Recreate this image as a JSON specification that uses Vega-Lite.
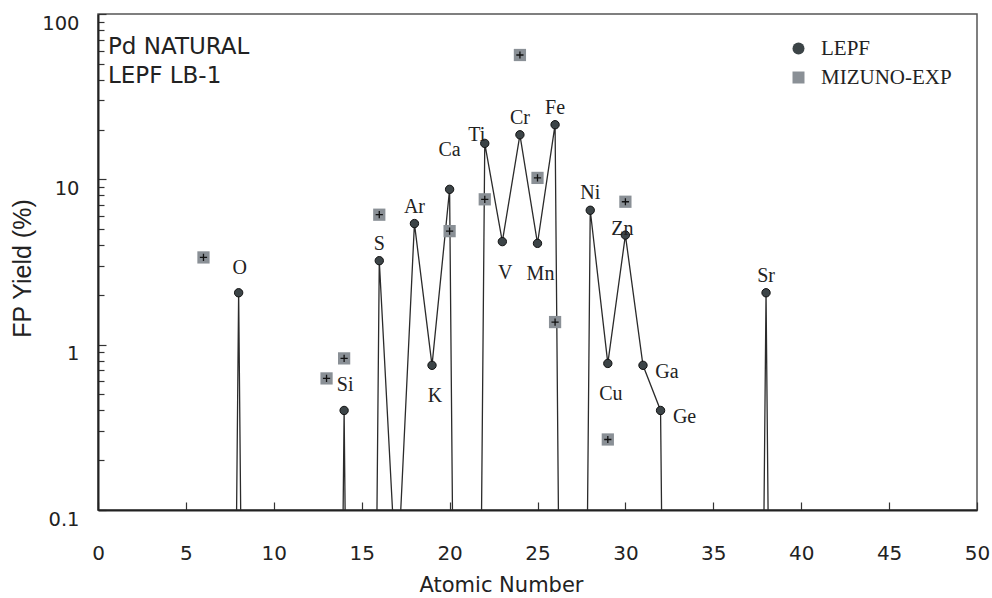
{
  "$schema": "https://vega.github.io/schema/vega-lite/v6.json",
  "autosize": "none",
  "width": 879,
  "height": 496,
  "padding": {"left": 98, "top": 14, "right": 15, "bottom": 88},
  "background": "white",
  "config": {
    "view": {"stroke": "#555", "strokeWidth": 1.5}
  },
  "title": {
    "text": "Pd NATURAL", "subtitle": "LEPF LB-1",
    "anchor": "start", "frame": "group", "orient": "top", "offset": -75, "dx": 10,
    "font": "DejaVu Sans", "fontSize": 23, "fontWeight": "normal", "color": "#222",
    "subtitleFont": "DejaVu Sans", "subtitleFontSize": 23, "subtitleColor": "#222", "subtitlePadding": 6
  },
  "datasets": {
    "lepf": [
      {"z": 1, "y": 1e-11, "series": "LEPF", "el": null, "pos": null},
      {"z": 2, "y": 1e-11, "series": "LEPF", "el": null, "pos": null},
      {"z": 3, "y": 1e-11, "series": "LEPF", "el": null, "pos": null},
      {"z": 4, "y": 1e-11, "series": "LEPF", "el": null, "pos": null},
      {"z": 5, "y": 1e-11, "series": "LEPF", "el": null, "pos": null},
      {"z": 6, "y": 1e-11, "series": "LEPF", "el": null, "pos": null},
      {"z": 7, "y": 1e-11, "series": "LEPF", "el": null, "pos": null},
      {"z": 8, "y": 2.06, "series": "LEPF", "el": "O", "pos": "above2"},
      {"z": 9, "y": 1e-11, "series": "LEPF", "el": null, "pos": null},
      {"z": 10, "y": 1e-11, "series": "LEPF", "el": null, "pos": null},
      {"z": 11, "y": 1e-11, "series": "LEPF", "el": null, "pos": null},
      {"z": 12, "y": 1e-11, "series": "LEPF", "el": null, "pos": null},
      {"z": 13, "y": 1e-11, "series": "LEPF", "el": null, "pos": null},
      {"z": 14, "y": 0.40, "series": "LEPF", "el": "Si", "pos": "above2"},
      {"z": 15, "y": 1e-11, "series": "LEPF", "el": null, "pos": null},
      {"z": 16, "y": 3.22, "series": "LEPF", "el": "S", "pos": "above"},
      {"z": 17, "y": 0.032, "series": "LEPF", "el": null, "pos": null},
      {"z": 18, "y": 5.4, "series": "LEPF", "el": "Ar", "pos": "above"},
      {"z": 19, "y": 0.75, "series": "LEPF", "el": "K", "pos": "below"},
      {"z": 20, "y": 8.7, "series": "LEPF", "el": "Ca", "pos": "above3"},
      {"z": 21, "y": 1e-11, "series": "LEPF", "el": null, "pos": null},
      {"z": 22, "y": 16.5, "series": "LEPF", "el": "Ti", "pos": "left"},
      {"z": 23, "y": 4.2, "series": "LEPF", "el": "V", "pos": "below"},
      {"z": 24, "y": 18.6, "series": "LEPF", "el": "Cr", "pos": "above"},
      {"z": 25, "y": 4.1, "series": "LEPF", "el": "Mn", "pos": "below"},
      {"z": 26, "y": 21.4, "series": "LEPF", "el": "Fe", "pos": "above"},
      {"z": 27, "y": 1e-11, "series": "LEPF", "el": null, "pos": null},
      {"z": 28, "y": 6.5, "series": "LEPF", "el": "Ni", "pos": "above"},
      {"z": 29, "y": 0.77, "series": "LEPF", "el": "Cu", "pos": "below"},
      {"z": 30, "y": 4.6, "series": "LEPF", "el": "Zn", "pos": "on"},
      {"z": 31, "y": 0.75, "series": "LEPF", "el": "Ga", "pos": "right"},
      {"z": 32, "y": 0.40, "series": "LEPF", "el": "Ge", "pos": "right"},
      {"z": 33, "y": 1e-11, "series": "LEPF", "el": null, "pos": null},
      {"z": 34, "y": 1e-11, "series": "LEPF", "el": null, "pos": null},
      {"z": 35, "y": 1e-11, "series": "LEPF", "el": null, "pos": null},
      {"z": 36, "y": 1e-11, "series": "LEPF", "el": null, "pos": null},
      {"z": 37, "y": 1e-11, "series": "LEPF", "el": null, "pos": null},
      {"z": 38, "y": 2.06, "series": "LEPF", "el": "Sr", "pos": "above"},
      {"z": 39, "y": 1e-11, "series": "LEPF", "el": null, "pos": null},
      {"z": 40, "y": 1e-11, "series": "LEPF", "el": null, "pos": null},
      {"z": 41, "y": 1e-11, "series": "LEPF", "el": null, "pos": null},
      {"z": 42, "y": 1e-11, "series": "LEPF", "el": null, "pos": null},
      {"z": 43, "y": 1e-11, "series": "LEPF", "el": null, "pos": null},
      {"z": 44, "y": 1e-11, "series": "LEPF", "el": null, "pos": null},
      {"z": 45, "y": 1e-11, "series": "LEPF", "el": null, "pos": null},
      {"z": 46, "y": 1e-11, "series": "LEPF", "el": null, "pos": null},
      {"z": 47, "y": 1e-11, "series": "LEPF", "el": null, "pos": null},
      {"z": 48, "y": 1e-11, "series": "LEPF", "el": null, "pos": null},
      {"z": 49, "y": 1e-11, "series": "LEPF", "el": null, "pos": null},
      {"z": 50, "y": 1e-11, "series": "LEPF", "el": null, "pos": null}
    ],
    "mizuno": [
      {"z": 6, "y": 3.37, "series": "MIZUNO-EXP"},
      {"z": 13, "y": 0.625, "series": "MIZUNO-EXP"},
      {"z": 14, "y": 0.826, "series": "MIZUNO-EXP"},
      {"z": 16, "y": 6.11, "series": "MIZUNO-EXP"},
      {"z": 20, "y": 4.86, "series": "MIZUNO-EXP"},
      {"z": 22, "y": 7.57, "series": "MIZUNO-EXP"},
      {"z": 24, "y": 56.5, "series": "MIZUNO-EXP"},
      {"z": 25, "y": 10.2, "series": "MIZUNO-EXP"},
      {"z": 26, "y": 1.37, "series": "MIZUNO-EXP"},
      {"z": 29, "y": 0.267, "series": "MIZUNO-EXP"},
      {"z": 30, "y": 7.32, "series": "MIZUNO-EXP"}
    ]
  },
  "encoding": {
    "x": {
      "field": "z", "type": "quantitative",
      "scale": {"domain": [0, 50], "nice": false, "zero": false},
      "axis": {
        "orient": "bottom",
        "values": [0, 5, 10, 15, 20, 25, 30, 35, 40, 45, 50],
        "title": "Atomic Number",
        "ticks": false,
        "grid": true, "gridDash": [0, 488, 8, 100], "gridColor": "#333", "gridWidth": 1.2, "gridOpacity": 1,
        "domainColor": "#222", "domainWidth": 2,
        "labelFont": "DejaVu Sans", "labelFontSize": 20, "labelColor": "#222",
        "labelPadding": 43, "labelBaseline": "middle", "labelFlush": false,
        "titleFont": "DejaVu Sans", "titleFontSize": 21, "titleFontWeight": "normal", "titleColor": "#222",
        "titleX": 403, "titleY": 75, "titleAlign": "center", "titleBaseline": "middle"
      }
    },
    "y": {
      "field": "y", "type": "quantitative",
      "scale": {"type": "log", "domain": [0.1, 100], "nice": false},
      "axis": {
        "orient": "left",
        "values": [0.1, 0.2, 0.3, 0.4, 0.5, 0.6, 0.7, 0.8, 0.9, 1, 2, 3, 4, 5, 6, 7, 8, 9, 10, 20, 30, 40, 50, 60, 70, 80, 90, 100],
        "title": "FP Yield (%)",
        "labelExpr": "abs(log(datum.value)/LN10 - round(log(datum.value)/LN10)) < 0.001 ? format(datum.value, '~g') : ''",
        "labelOverlap": false, "labelFlush": false,
        "ticks": false,
        "grid": true, "gridColor": "#333", "gridWidth": 1.2, "gridOpacity": 1,
        "gridDash": {"condition": {"test": "abs(log(datum.value)/LN10 - round(log(datum.value)/LN10)) < 0.001", "value": [8, 3000]}, "value": [6, 3000]},
        "domainColor": "#222", "domainWidth": 2,
        "labelFont": "DejaVu Sans", "labelFontSize": 19.5, "labelColor": "#222",
        "labelPadding": 19, "labelOffset": 9,
        "titleFont": "Liberation Sans", "titleFontSize": 25, "titleFontWeight": "normal", "titleColor": "#222",
        "titleX": -76, "titleY": 254, "titleAngle": -90, "titleAlign": "center", "titleBaseline": "middle"
      }
    }
  },
  "layer": [
    {
      "data": {"name": "lepf"},
      "mark": {"type": "line", "clip": true, "color": "#2b2b2b", "strokeWidth": 1.3}
    },
    {
      "data": {"name": "mizuno"},
      "mark": {"type": "point", "filled": true, "size": 150, "opacity": 1, "strokeWidth": 0},
      "encoding": {
        "color": {"field": "series", "type": "nominal",
          "scale": {"domain": ["LEPF", "MIZUNO-EXP"], "range": ["#3c4447", "#8a9096"]},
          "legend": {
            "title": null, "orient": "none", "legendX": 690, "legendY": 24,
            "labelFont": "Liberation Serif", "labelFontSize": 21, "labelColor": "#222",
            "symbolSize": 144, "labelOffset": 12, "rowPadding": 7, "padding": 0,
            "encode": {"symbols": {"update": {"size": [{"test": "datum.value === 'LEPF'", "value": 32}, {"value": 144}], "strokeWidth": {"value": 0}}}}
          }
        },
        "shape": {"field": "series", "type": "nominal",
          "scale": {"domain": ["LEPF", "MIZUNO-EXP"], "range": ["circle", "square"]}}
      }
    },
    {
      "data": {"name": "mizuno"},
      "mark": {"type": "point", "shape": "M-1,0H1M0,-1V1", "filled": false, "size": 52, "stroke": "#111", "strokeWidth": 1.3, "opacity": 1}
    },
    {
      "data": {"name": "lepf"},
      "transform": [{"filter": "datum.y >= 0.1"}],
      "mark": {"type": "point", "filled": true, "size": 70, "stroke": "#111", "strokeWidth": 1, "opacity": 1},
      "encoding": {
        "color": {"field": "series", "type": "nominal"},
        "shape": {"field": "series", "type": "nominal"}
      }
    },
    {
      "data": {"name": "lepf"},
      "transform": [{"filter": "datum.pos === 'above'"}],
      "mark": {"type": "text", "font": "Liberation Serif", "fontSize": 20, "color": "#222", "baseline": "middle", "align": "center", "dy": -17},
      "encoding": {"text": {"field": "el"}}
    },
    {
      "data": {"name": "lepf"},
      "transform": [{"filter": "datum.pos === 'above2'"}],
      "mark": {"type": "text", "font": "Liberation Serif", "fontSize": 20, "color": "#222", "baseline": "middle", "align": "center", "dy": -25, "dx": 1},
      "encoding": {"text": {"field": "el"}}
    },
    {
      "data": {"name": "lepf"},
      "transform": [{"filter": "datum.pos === 'above3'"}],
      "mark": {"type": "text", "font": "Liberation Serif", "fontSize": 20, "color": "#222", "baseline": "middle", "align": "center", "dy": -39},
      "encoding": {"text": {"field": "el"}}
    },
    {
      "data": {"name": "lepf"},
      "transform": [{"filter": "datum.pos === 'below'"}],
      "mark": {"type": "text", "font": "Liberation Serif", "fontSize": 20, "color": "#222", "baseline": "middle", "align": "center", "dy": 31, "dx": 3},
      "encoding": {"text": {"field": "el"}}
    },
    {
      "data": {"name": "lepf"},
      "transform": [{"filter": "datum.pos === 'right'"}],
      "mark": {"type": "text", "font": "Liberation Serif", "fontSize": 20, "color": "#222", "baseline": "middle", "align": "center", "dy": 7, "dx": 24},
      "encoding": {"text": {"field": "el"}}
    },
    {
      "data": {"name": "lepf"},
      "transform": [{"filter": "datum.pos === 'left'"}],
      "mark": {"type": "text", "font": "Liberation Serif", "fontSize": 20, "color": "#222", "baseline": "middle", "align": "center", "dy": -8, "dx": -8},
      "encoding": {"text": {"field": "el"}}
    },
    {
      "data": {"name": "lepf"},
      "transform": [{"filter": "datum.pos === 'on'"}],
      "mark": {"type": "text", "font": "Liberation Serif", "fontSize": 20, "color": "#222", "baseline": "middle", "align": "center", "dy": -6, "dx": -3},
      "encoding": {"text": {"field": "el"}}
    }
  ]
}
